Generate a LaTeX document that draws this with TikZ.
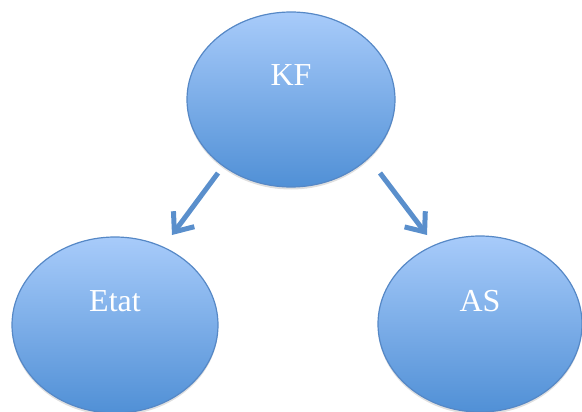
\documentclass[tikz,border=0pt]{standalone}
\usepackage{fontspec}
\setmainfont{Liberation Serif}
\usetikzlibrary{shapes.geometric, arrows.meta, shadows}

\definecolor{bubbletop}{RGB}{168,203,250}
\definecolor{bubblebottom}{RGB}{80,144,214}
\definecolor{bubbleline}{RGB}{86,136,198}
\definecolor{arrowblue}{RGB}{90,143,204}

\begin{document}
\begin{tikzpicture}[
    x=1pt, y=-1pt,
    bubble/.style={ellipse, draw=bubbleline, line width=1.2pt, top color=bubbletop, bottom color=bubblebottom, inner sep=0pt, drop shadow={shadow xshift=0pt, shadow yshift=-2.5pt, opacity=0.25}},
    caption/.style={anchor=base, text=white, font=\fontsize{32}{38}\selectfont},
    link/.style={line width=5pt, arrowblue, -{Straight Barb[length=16pt, width=26pt]}}
]
    % Frame
    \useasboundingbox (0, 0) rectangle (582, 412);

    % Ellipses
    \node[bubble, minimum width=208pt, minimum height=175pt] (kf) at (291, 99.5) {};
    \node[bubble, minimum width=206pt, minimum height=176pt] (etat) at (115, 325) {};
    \node[bubble, minimum width=204pt, minimum height=176pt] (as) at (480, 324) {};

    % Labels
    \node[caption] (kf-label) at ([yshift=14pt]kf.center) {KF};
    \node[caption] (etat-label) at ([yshift=14pt]etat.center) {Etat};
    \node[caption] (as-label) at ([yshift=13pt]as.center) {AS};

    % Arrows
    \draw[link] ([shift={(-73, 73.5)}]kf.center) -- ([shift={(57, -90)}]etat.center);
    \draw[link] ([shift={(89, 73.5)}]kf.center) -- ([shift={(-53, -89)}]as.center);
\end{tikzpicture}
\end{document}
